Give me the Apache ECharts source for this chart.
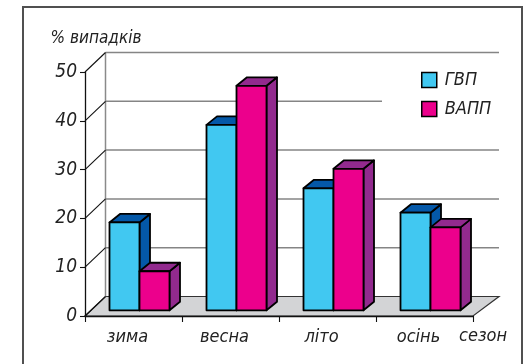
<!DOCTYPE html>
<html>
<head>
<meta charset="utf-8">
<script src="https://cdn.jsdelivr.net/npm/echarts@6/dist/echarts.min.js"></script>
<style>
  html, body { margin: 0; padding: 0; background: #fff; }
  #chart { width: 527px; height: 364px; }
</style>
</head>
<body>
<div id="chart"></div>
<script>
// Seasonal distribution of cases, %
const seasons = ['зима', 'весна', 'літо', 'осінь'];
const gvpValues = [18, 38, 25, 20];
const vappValues = [8, 46, 29, 17];
const seriesNames = ['ГВП', 'ВАПП'];
const yTicks = [0, 10, 20, 30, 40, 50];

// Pseudo-3D geometry (pixels)
const FLOOR_DX_LEFT = 20.5, FLOOR_DX_RIGHT = 26, FLOOR_DY = -19.5;
const BAR_SHIFT_X = 6, BAR_SHIFT_Y = -5.7;
const BAR_DEPTH_X = 10.5, BAR_DEPTH_Y = -8.5;
const BAR_W = 30;

const FONT = '"DejaVu Sans Condensed", "Liberation Sans", sans-serif';
const TEXT_COLOR = '#222';

const palette = {
  'ГВП': { front: '#41C8F1', dark: '#0458A8' },
  'ВАПП': { front: '#EC008C', dark: '#922A8E' }
};

// Floor, back wall and its grid lines
function renderFrame(params, api) {
  const cs = params.coordSys;
  const x0 = cs.x, x1 = cs.x + cs.width;
  const yAt = t => api.coord([0, t])[1];
  const y0 = yAt(0);
  const bxL = x0 + FLOOR_DX_LEFT, bxR = x1 + FLOOR_DX_RIGHT;
  const yTop = yAt(yTicks[yTicks.length - 1]) + FLOOR_DY;
  const children = [];
  children.push({
    type: 'polygon',
    shape: { points: [[x0, y0], [x1, y0], [bxR, y0 + FLOOR_DY], [bxL, y0 + FLOOR_DY]] },
    style: { fill: '#D3D4D6', stroke: '#333', lineWidth: 1.2 }
  });
  children.push({
    type: 'line',
    shape: { x1: bxL, y1: y0 + FLOOR_DY, x2: bxL, y2: yTop },
    style: { stroke: '#8a8a8a', lineWidth: 1.5 }
  });
  yTicks.forEach(t => {
    if (t === 0) return;
    const y = yAt(t);
    children.push({
      type: 'line',
      shape: { x1: bxL, y1: y + FLOOR_DY, x2: bxR, y2: y + FLOOR_DY },
      style: { stroke: '#858585', lineWidth: 1.5 }
    });
    children.push({
      type: 'line',
      shape: { x1: x0, y1: y, x2: bxL, y2: y + FLOOR_DY },
      style: { stroke: '#111', lineWidth: 1.1 }
    });
  });
  children.push({
    type: 'line',
    shape: { x1: x0, y1: y0, x2: bxL, y2: y0 + FLOOR_DY },
    style: { stroke: '#111', lineWidth: 1.1 }
  });
  return { type: 'group', children };
}

// Box-shaped column: side face, top face, then front face
function barRenderer(slot, colors) {
  return function (params, api) {
    const i = api.value(0), v = api.value(1);
    const base = api.coord([i, 0]);
    const top = api.coord([i, v]);
    const xa = base[0] + BAR_SHIFT_X + (slot === 0 ? -BAR_W : 0);
    const xb = xa + BAR_W;
    const yb = base[1] + BAR_SHIFT_Y;
    const yt = top[1] + BAR_SHIFT_Y;
    const dx = BAR_DEPTH_X, dy = BAR_DEPTH_Y;
    const edge = { stroke: '#000', lineWidth: 1.8, lineJoin: 'round' };
    return {
      type: 'group',
      children: [
        { type: 'polygon', shape: { points: [[xb, yb], [xb + dx, yb + dy], [xb + dx, yt + dy], [xb, yt]] },
          style: Object.assign({ fill: colors.dark }, edge) },
        { type: 'polygon', shape: { points: [[xa, yt], [xb, yt], [xb + dx, yt + dy], [xa + dx, yt + dy]] },
          style: Object.assign({ fill: colors.dark }, edge) },
        { type: 'rect', shape: { x: xa, y: yt, width: BAR_W, height: yb - yt },
          style: Object.assign({ fill: colors.front }, edge) }
      ]
    };
  };
}

const chart = echarts.init(document.getElementById('chart'), null, { renderer: 'canvas' });

const option = {
  animation: false,
  backgroundColor: '#fff',
  textStyle: { fontFamily: FONT, fontStyle: 'italic', color: TEXT_COLOR },
  graphic: [{
    type: 'rect', z: 100, silent: true,
    shape: { x: 23, y: 7, width: 499, height: 370 },
    style: { fill: 'none', stroke: '#505050', lineWidth: 2 }
  }],
  grid: { left: 85, right: 54, top: 72, bottom: 48 },
  legend: {
    orient: 'vertical',
    left: 382, top: 61,
    padding: [10, 10, 12, 39],
    backgroundColor: '#fff',
    itemWidth: 15, itemHeight: 15, itemGap: 11,
    icon: 'rect',
    itemStyle: { borderColor: '#000', borderWidth: 1.5 },
    textStyle: { fontFamily: FONT, fontStyle: 'italic', fontSize: 18, color: TEXT_COLOR, lineHeight: 16, padding: [0, 0, 0, 3] },
    data: seriesNames,
    z: 10
  },
  xAxis: {
    type: 'category',
    data: seasons,
    z: 5,
    name: 'сезон',
    nameLocation: 'end',
    nameGap: 10,
    nameTextStyle: { fontFamily: FONT, fontStyle: 'italic', fontSize: 18, color: TEXT_COLOR,
      align: 'center', verticalAlign: 'top', padding: [11, 0, 0, 0] },
    axisLine: { lineStyle: { color: '#111', width: 1.3 } },
    axisTick: { show: true, length: 6, lineStyle: { color: '#111', width: 1.1 } },
    axisLabel: { fontFamily: FONT, fontStyle: 'italic', fontSize: 18, color: TEXT_COLOR,
      margin: 12, padding: [0, 12, 0, 0] },
    splitLine: { show: false }
  },
  yAxis: {
    type: 'value',
    min: 0, max: 50, interval: 10,
    z: 5,
    name: '% випадків',
    nameLocation: 'end',
    nameGap: 25,
    nameTextStyle: { fontFamily: FONT, fontStyle: 'italic', fontSize: 17, color: TEXT_COLOR,
      align: 'center', padding: [0, 0, 0, 22] },
    axisLine: { show: true, lineStyle: { color: '#111', width: 1.3 } },
    axisTick: { show: true, length: 5, lineStyle: { color: '#111', width: 1.1 } },
    axisLabel: { fontFamily: FONT, fontStyle: 'italic', fontSize: 19, color: TEXT_COLOR, margin: 8,
      formatter: v => String(v) },
    splitLine: { show: false }
  },
  series: [
    {
      type: 'custom', name: 'frame', z: 1, silent: true,
      renderItem: renderFrame,
      data: [[0, 0]],
      encode: { x: 0, y: 1 }
    },
    {
      type: 'custom', name: seriesNames[0], z: 3,
      itemStyle: { color: palette['ГВП'].front },
      renderItem: barRenderer(0, palette['ГВП']),
      data: gvpValues.map((v, i) => [i, v]),
      encode: { x: 0, y: 1 }
    },
    {
      type: 'custom', name: seriesNames[1], z: 4,
      itemStyle: { color: palette['ВАПП'].front },
      renderItem: barRenderer(1, palette['ВАПП']),
      data: vappValues.map((v, i) => [i, v]),
      encode: { x: 0, y: 1 }
    }
  ]
};

chart.setOption(option);
</script>
</body>
</html>
